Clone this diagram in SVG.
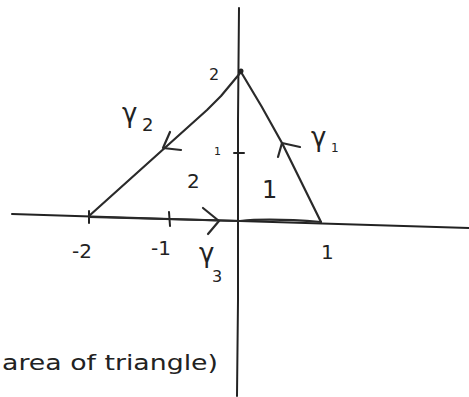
<svg xmlns="http://www.w3.org/2000/svg" width="469" height="397" viewBox="0 0 469 397">
<style>
.ln{fill:none;stroke:#2a2a2a;stroke-width:2.2;stroke-linecap:round;stroke-linejoin:round}
.ax{fill:none;stroke:#222;stroke-width:2;stroke-linecap:round}
.t{font-family:"DejaVu Sans",sans-serif;fill:#222}
</style>
<rect width="469" height="397" fill="#fff"/>
<g id="axes">
<path class="ax" d="M239,8 L238,120 L238,300 L237,396"/>
<path class="ax" d="M12,214 L170,219 L240,221 L469,228"/>
<path class="ax" d="M169,212 L170,226"/>
<path class="ax" d="M234,153 L244,153"/>
<path class="ax" d="M89,211 L89,223"/>
</g>
<g id="connectors">
<path class="ln" d="M241,72 L226,90 L221,96 L207,110 L89,216"/>
<path class="ln" d="M241,72 Q262,106 282,143 L321,222"/>
<path class="ln" d="M89,217 L240,221"/>
<path class="ln" d="M240,221 Q270,218 321,222"/>
<path class="ln" d="M170,132 L163,148 L181,150"/>
<path class="ln" d="M278,157 L282,143 L300,147"/>
<path class="ln" d="M203,208 L219,221 L208,234"/>
<circle cx="241" cy="71" r="2.5" fill="#222"/>
</g>
<g id="labels">
<text class="t" x="209" y="80" font-size="16">2</text>
<text class="t" x="122" y="122" font-size="26">γ</text>
<text class="t" x="142" y="131" font-size="18">2</text>
<text class="t" x="311" y="146" font-size="26">γ</text>
<text class="t" x="331" y="152" font-size="12">1</text>
<text class="t" x="214" y="155" font-size="11">1</text>
<text class="t" x="187" y="188" font-size="20">2</text>
<text class="t" x="262" y="198" font-size="24">1</text>
<text class="t" x="72" y="258" font-size="20">-2</text>
<text class="t" x="151" y="255" font-size="20">-1</text>
<text class="t" x="199" y="262" font-size="26">γ</text>
<text class="t" x="212" y="282" font-size="16">3</text>
<text class="t" x="321" y="259" font-size="20">1</text>
<text class="t" x="2" y="370" font-size="22" textLength="216" lengthAdjust="spacingAndGlyphs">area of triangle)</text>
</g>
</svg>
